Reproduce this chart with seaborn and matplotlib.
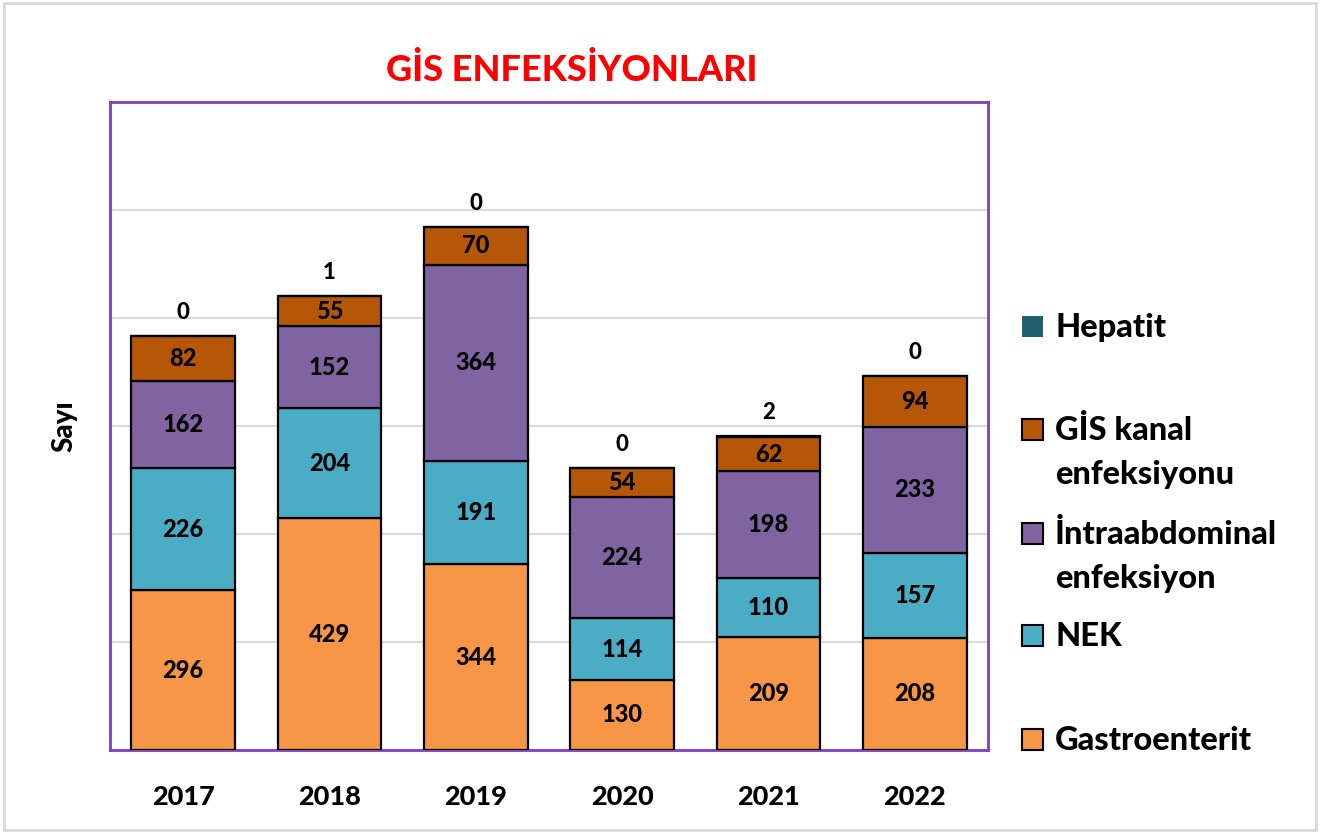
import matplotlib
matplotlib.use("Agg")
import matplotlib.pyplot as plt
from matplotlib.patches import Rectangle
import seaborn as sns
import numpy as np

years = ["2017", "2018", "2019", "2020", "2021", "2022"]
gastroenterit = [296, 429, 344, 130, 209, 208]
nek = [226, 204, 191, 114, 110, 157]
intraabdominal = [162, 152, 364, 224, 198, 233]
gis_kanal = [82, 55, 70, 54, 62, 94]
hepatit = [0, 1, 0, 0, 2, 0]

series_names = ["Gastroenterit", "NEK", "İntraabdominal\nenfeksiyon",
                "GİS kanal\nenfeksiyonu", "Hepatit"]
series_vals = [gastroenterit, nek, intraabdominal, gis_kanal, hepatit]
colors = ["#F79646", "#4BACC6", "#8064A2", "#B65708", "#215F6E"]

sns.set_theme(style="white")
plt.rcParams["font.family"] = ["Lato", "DejaVu Sans"]
plt.rcParams["font.weight"] = "bold"
plt.rcParams["text.color"] = "black"

fig = plt.figure(figsize=(13.25, 8.32), dpi=100)
ax = fig.add_axes([110/1325, 1-750/832, (988-110)/1325, (750-102)/832])

bottom = np.zeros(len(years))
for name, vals, col in zip(series_names, series_vals, colors):
    v = np.array(vals, dtype=float)
    sns.barplot(x=years, y=v, bottom=bottom, color=col, width=0.71,
                edgecolor="black", linewidth=1.6, saturation=1, ax=ax, zorder=3)
    if name != "Hepatit":
        for i, (b, h) in enumerate(zip(bottom, v)):
            ax.text(i, b + h/2, f"{int(h)}", ha="center", va="center",
                    fontsize=17, fontweight="black", color="black", zorder=4)
    else:
        for i, (b, h) in enumerate(zip(bottom, v)):
            ax.annotate(f"{int(h)}", (i, b + h), xytext=(0, 17),
                        textcoords="offset points", ha="center", va="center",
                        fontsize=16, fontweight="black", color="black")
    bottom = bottom + v

ax.set_ylim(0, 1200)
ax.set_xlim(-0.5, len(years)-0.5)
ax.set_yticks(np.arange(0, 1201, 200))
ax.set_yticklabels([])
ax.tick_params(axis="y", length=0)
ax.tick_params(axis="x", length=0, pad=25)
ax.set_xticks(range(len(years)))
ax.set_xticklabels(years, fontsize=19.5, fontweight="black", color="black")
ax.grid(axis="y", color="#D9D9D9", linewidth=1.5, zorder=0)
ax.set_axisbelow(True)
for sp in ax.spines.values():
    sp.set_visible(True)
    sp.set_color("#7F3FBF")
    sp.set_linewidth(2)
ax.set_xlabel("")
ax.set_ylabel("Sayı", fontsize=20, fontweight="black", color="black", labelpad=20)

fig.text(572/1325, 1-70/832, "GİS ENFEKSİYONLARI", ha="center", va="center",
         fontsize=26, fontweight="black", color="#FF0000")

# legend (manual, top to bottom)
leg_y = [327, 452, 556, 636, 740]
for name, col, yy in zip(series_names[::-1], colors[::-1], leg_y):
    ec = "none" if name == "Hepatit" else "black"
    first_line_y = yy if "\n" not in name else yy - 22
    fig.patches.append(Rectangle((1022/1325, 1-(first_line_y+10)/832), 21/1325, 21/832,
                                 transform=fig.transFigure, facecolor=col,
                                 edgecolor=ec, linewidth=1.5))
    fig.text(1055/1325, 1-yy/832, name, ha="left", va="center", fontsize=23.5,
             fontweight="black", color="black", linespacing=1.63)

fig.patches.append(Rectangle((4/1325, 0.002), 1312/1325, 0.994, transform=fig.transFigure,
                             facecolor="none", edgecolor="#D9D9D9", linewidth=2))

fig.savefig("out.png", dpi=100, facecolor="white")
